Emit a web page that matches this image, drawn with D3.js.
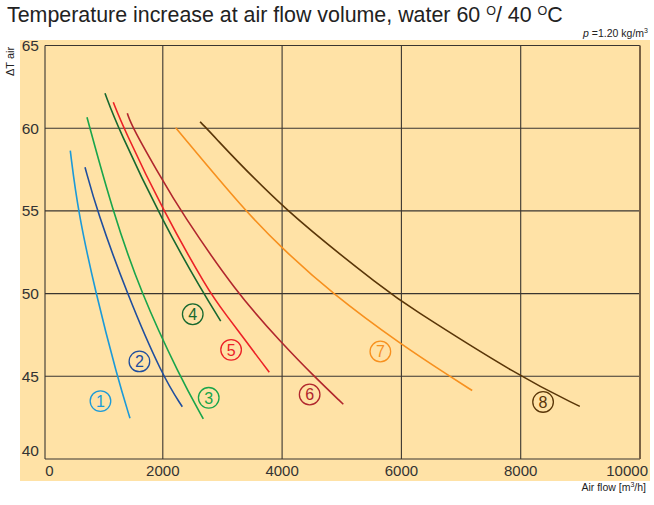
<!DOCTYPE html>
<html>
  <head>
    <meta charset="utf-8">
    <title>Temperature increase at air flow volume</title>
    <script src="https://d3js.org/d3.v7.min.js"></script>
    <style>
      body { margin: 0; background: #fff; }
      svg { font-family: "Liberation Sans", Arial, sans-serif; }
    </style>
  </head>
  <body>
    <svg id="chart" width="654" height="505"></svg>
    <script>
      // axis ticks
      var xTicks = [0, 2000, 4000, 6000, 8000, 10000];
      var yTicks = [40, 45, 50, 55, 60, 65];
      // curve ids and colours
      var curveIds = [1, 2, 3, 4, 5, 6, 7, 8];
      var curveColors = ["#1b9ad8", "#1f4e9e", "#19a54b", "#17682f", "#ec2127", "#b1262d", "#f7901e", "#5a3608"];
      // curve points [air flow, delta T]
      var curve1 = [[449, 58.64], [573, 55.05], [875, 50.02], [1237, 44.98], [1450, 42.46]];
      var curve2 = [[696, 57.64], [892, 55.05], [1395, 50.02], [1998, 44.98], [2327, 43.16]];
      var curve3 = [[729, 60.66], [1153, 55.05], [1634, 50.02], [2288, 44.98], [2679, 42.42]];
      var curve4 = [[1031, 62.11], [1244, 60.05], [1998, 54.35], [2679, 50.02], [2971, 48.34]];
      var curve5 = [[1170, 61.57], [1338, 60.05], [1998, 55.05], [2791, 50.02], [2959, 49.21], [3785, 45.24]];
      var curve6 = [[1405, 60.9], [1489, 60.05], [1992, 56.87], [2288, 55.05], [3239, 50.02], [3998, 47.0], [4540, 44.98], [5026, 43.31]];
      var curve7 = [[2216, 60.03], [3366, 55.05], [3998, 52.74], [4831, 50.02], [6005, 46.89], [6821, 44.98], [7187, 44.14]];
      var curve8 = [[2624, 60.39], [2719, 60.05], [4010, 55.05], [5809, 50.02], [6005, 49.49], [8005, 44.91], [8991, 43.18]];
      var curves = [curve1, curve2, curve3, curve4, curve5, curve6, curve7, curve8];
      // circled label positions [air flow, delta T]
      var labelPos = [[955, 43.5], [1608, 45.9], [2770, 43.7], [2502, 48.75], [3145, 46.6], [4462, 43.9], [5647, 46.5], [8375, 43.45]];

      var svg = d3.select("#chart");
      var x = d3.scaleLinear().domain([0, 10000]).range([43.5, 640]);
      var y = d3.scaleLinear().domain([40, 65]).range([459, 45.5]);

      // background panel
      svg.append("rect")
        .attr("x", 20).attr("y", 40)
        .attr("width", 630).attr("height", 441)
        .attr("fill", "#ffe2a6");

      // grid
      var grid = svg.append("g").attr("stroke", "#3a3530").attr("stroke-width", 1.1);
      grid.selectAll("line.h")
          .data(yTicks)
        .enter().append("line")
          .attr("x1", 45).attr("x2", 640)
          .attr("y1", function(d) { return y(d); })
          .attr("y2", function(d) { return y(d); });
      grid.selectAll("line.v")
          .data(xTicks.slice(1, -1))
        .enter().append("line")
          .attr("y1", y(65)).attr("y2", y(40))
          .attr("x1", function(d) { return x(d); })
          .attr("x2", function(d) { return x(d); });
      grid.append("line")
        .attr("x1", 45).attr("x2", 45)
        .attr("y1", y(65)).attr("y2", y(40));
      grid.append("line")
        .attr("x1", x(10000)).attr("x2", x(10000))
        .attr("y1", y(65)).attr("y2", y(40))
        .attr("stroke", "#7a6244").attr("stroke-width", 2);

      // tick labels
      svg.append("g").selectAll("text")
          .data(yTicks)
        .enter().append("text")
          .attr("x", 39)
          .attr("y", function(d) { return d == 40 ? y(d) - 3 : y(d) + 5.5; })
          .attr("text-anchor", "end")
          .attr("font-size", 15.5)
          .attr("fill", "#333")
          .text(function(d) { return d; });
      svg.append("g").selectAll("text")
          .data(xTicks)
        .enter().append("text")
          .attr("x", function(d, i) { return i == 0 ? x(d) + 6 : i == xTicks.length - 1 ? 648 : x(d); })
          .attr("y", 476)
          .attr("text-anchor", function(d, i) { return i == xTicks.length - 1 ? "end" : "middle"; })
          .attr("font-size", 15)
          .attr("fill", "#333")
          .text(function(d) { return d; });

      // curves
      var line = d3.line()
        .x(function(d) { return x(d[0]); })
        .y(function(d) { return y(d[1]); })
        .curve(d3.curveBasis);
      svg.append("g").selectAll("path")
          .data(curves)
        .enter().append("path")
          .attr("d", line)
          .attr("fill", "none")
          .attr("stroke", function(d, i) { return curveColors[i]; })
          .attr("stroke-width", 1.6);

      // circled numbers
      var labels = svg.append("g").selectAll("g")
          .data(labelPos)
        .enter().append("g")
          .attr("transform", function(d) { return "translate(" + x(d[0]) + "," + y(d[1]) + ")"; });
      labels.append("circle")
        .attr("r", 10.3)
        .attr("fill", "none")
        .attr("stroke", function(d, i) { return curveColors[i]; })
        .attr("stroke-width", 1.3);
      labels.append("text")
        .attr("text-anchor", "middle")
        .attr("y", 5.8)
        .attr("font-size", 16)
        .attr("fill", function(d, i) { return curveColors[i]; })
        .text(function(d, i) { return curveIds[i]; });

      // titles
      var title = svg.append("text")
        .attr("x", 7).attr("y", 22)
        .attr("font-size", 21.4)
        .attr("fill", "#222");
      title.append("tspan").text("Temperature increase at air flow volume, water 60 ");
      title.append("tspan").attr("font-size", 12.5).attr("dy", -7).text("O");
      title.append("tspan").attr("dy", 7).text("/ 40 ");
      title.append("tspan").attr("font-size", 12.5).attr("dy", -7).text("O");
      title.append("tspan").attr("dy", 7).text("C");

      var rho = svg.append("text")
        .attr("x", 648).attr("y", 37)
        .attr("text-anchor", "end")
        .attr("font-size", 10.5)
        .attr("fill", "#222");
      rho.append("tspan").attr("font-style", "italic").text("p");
      rho.append("tspan").text(" =1.20 kg/m");
      rho.append("tspan").attr("font-size", 7).attr("dy", -4).text("3");

      svg.append("text")
        .attr("transform", "translate(14,76) rotate(-90)")
        .attr("font-size", 11)
        .attr("fill", "#222")
        .text("ΔT air");

      var xl = svg.append("text")
        .attr("x", 646).attr("y", 491)
        .attr("text-anchor", "end")
        .attr("font-size", 10.5)
        .attr("fill", "#222");
      xl.append("tspan").text("Air flow [m");
      xl.append("tspan").attr("font-size", 7).attr("dy", -4).text("3");
      xl.append("tspan").attr("dy", 4).text("/h]");
    </script>
  </body>
</html>
